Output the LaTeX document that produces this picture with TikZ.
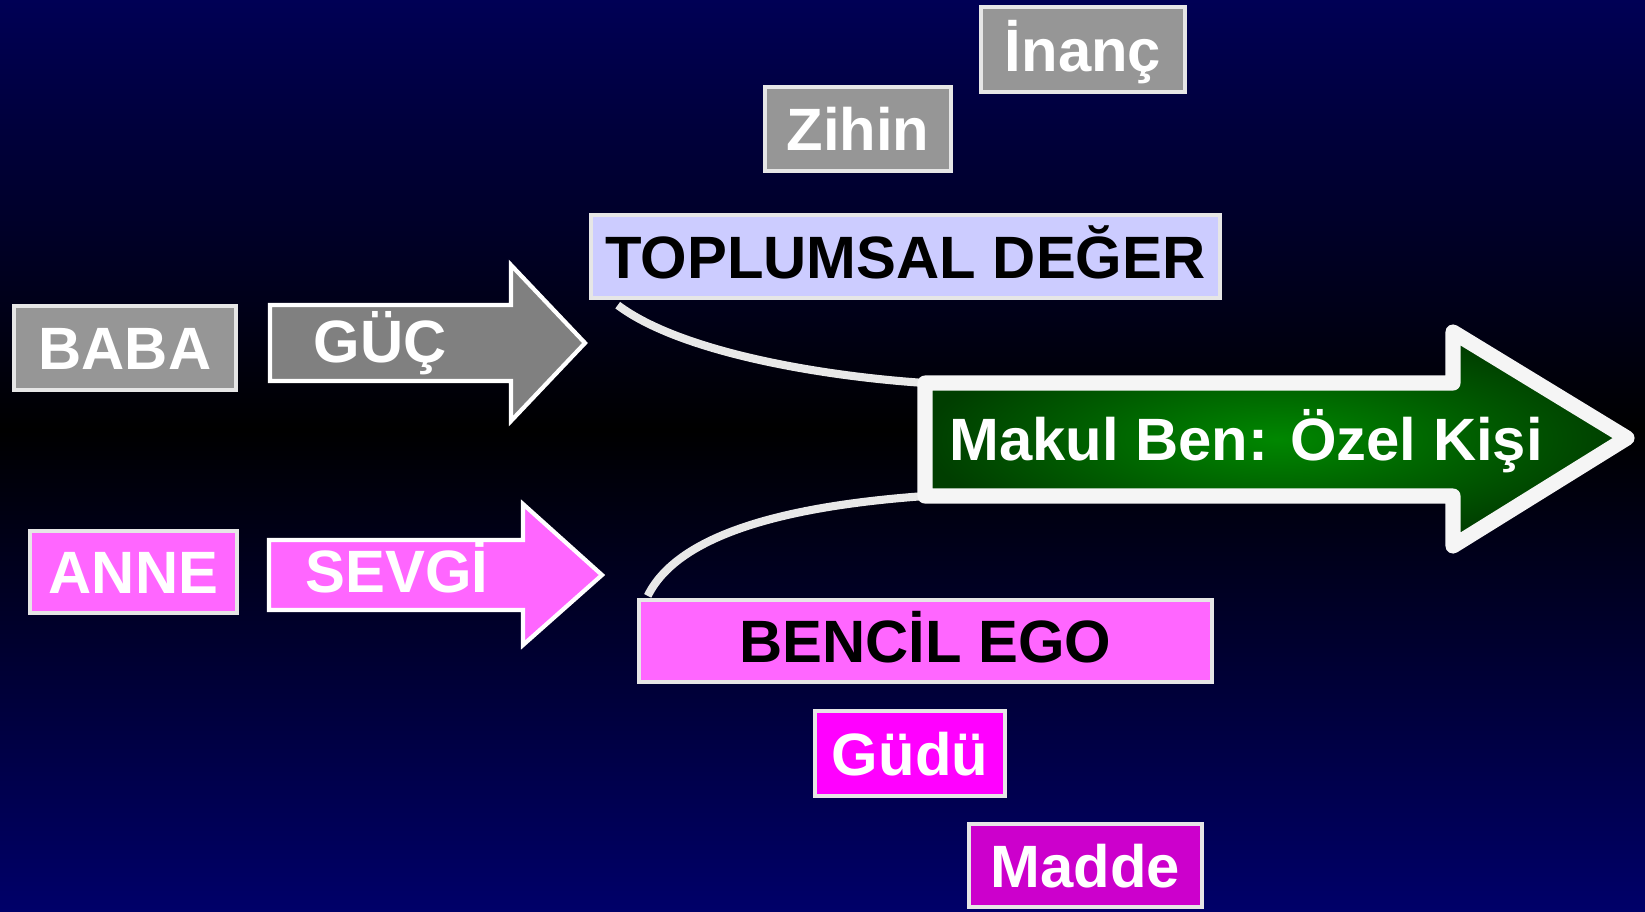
\documentclass[tikz,border=0pt]{standalone}
\usepackage{fontspec}
\setmainfont{Liberation Sans}
\definecolor{bgtop}{RGB}{0,0,85}
\definecolor{bgbot}{RGB}{0,0,105}
\definecolor{edge}{RGB}{230,230,230}
\definecolor{linkgray}{RGB}{232,232,232}
\definecolor{boxgray}{RGB}{150,150,150}
\definecolor{arrowgray}{RGB}{128,128,128}
\definecolor{lilac}{RGB}{204,204,255}
\definecolor{pink}{RGB}{255,102,255}
\definecolor{fuchsia}{RGB}{255,0,255}
\definecolor{plum}{RGB}{204,0,204}
\definecolor{leafgreen}{RGB}{0,135,0}
\definecolor{darkleaf}{RGB}{0,62,0}
\begin{document}
\begin{tikzpicture} [x=0.01cm,y=-0.01cm,font=\fontsize{17}{20}\selectfont\bfseries,
		box/.style={draw=edge,line width=1.2pt,inner sep=0pt,text height=12.4pt,text depth=0pt},
		lbl/.style={inner sep=0pt,text=white},
		link/.style={draw=linkgray,line width=2.3pt}]
		\useasboundingbox (0,0) rectangle (1645,911);
		% background
		\begin{scope}[y=0.01cm]
			\shade [top color=bgtop,bottom color=black] (0,-430) rectangle (1645,0);
			\shade [top color=black,bottom color=bgbot] (0,-911) rectangle (1645,-430);
		\end{scope}
		% boxes
		\node [box,fill=boxgray,text=white,minimum width=2.04cm,minimum height=0.85cm] (inanc) at (1083,49.5) {İnanç};
		\node [box,fill=boxgray,text=white,minimum width=1.86cm,minimum height=0.84cm] (zihin) at (858,129) {Zihin};
		\node [box,fill=lilac,text=black,minimum width=6.29cm,minimum height=0.83cm] (toplumsal) at (905.5,256.5) {TOPLUMSAL DEĞER};
		\node [box,fill=boxgray,text=white,minimum width=2.22cm,minimum height=0.84cm] (baba) at (125,348) {BABA};
		\node [box,fill=pink,text=white,minimum width=2.07cm,minimum height=0.82cm] (anne) at (133.5,572) {ANNE};
		\node [box,fill=pink,text=black,minimum width=5.73cm,minimum height=0.82cm] (bencil) at (925.5,641) {BENCİL EGO};
		\node [box,fill=fuchsia,text=white,minimum width=1.90cm,minimum height=0.85cm] (gudu) at (910,753.5) {Güdü};
		\node [box,fill=plum,text=white,minimum width=2.33cm,minimum height=0.83cm] (madde) at (1085.5,865.5) {Madde};
		% small arrows
		\draw [fill=arrowgray,draw=white,line width=1.2pt] (270,305) -- (511,305) -- (511,265) -- (585,343) -- (511,421) -- (511,381) -- (270,381) -- cycle;
		\node [lbl,anchor=base] (guc) at (380,362) {GÜÇ};
		\draw [fill=pink,draw=white,line width=1.2pt] (269,540) -- (523,540) -- (523,504) -- (602,575) -- (523,645) -- (523,610) -- (269,610) -- cycle;
		\node [lbl,anchor=base] (sevgi) at (397,592) {SEVGİ};
		% big arrow
		\coordinate (makultl) at (925,383);
		\coordinate (makulbl) at (925,496);
		\draw [link] ([xshift=0.29cm,yshift=-0.05cm]toplumsal.south west) .. controls (680,352) and (820,376) .. (makultl);
		\draw [link] ([xshift=0.11cm,yshift=0.02cm]bencil.north west) .. controls (680,530) and (800,505) .. (makulbl);
		\shadedraw [inner color=leafgreen,outer color=darkleaf,draw=white!96!black,line width=4.3pt,line join=round] (makultl) -- (1453,383) -- (1453,332) -- (1627,438) -- (1453,546) -- (1453,496) -- (makulbl) -- cycle;
		\node [lbl,anchor=base] (makul) at (1246,460) {Makul Ben: Özel Kişi};
	\end{tikzpicture}
\end{document}
